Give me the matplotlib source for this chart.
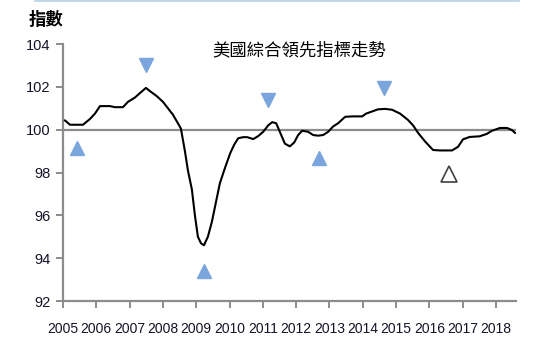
import numpy as np
import matplotlib
matplotlib.use("Agg")
import matplotlib.pyplot as plt

plt.rcParams['font.family'] = ['Noto Sans CJK TC', 'DejaVu Sans']

# index values (decimal year, index)
years = [2005.06, 2005.21, 2005.60, 2005.81, 2005.96, 2006.11, 2006.41, 2006.56, 2006.80, 2006.95,
         2007.16, 2007.34, 2007.49, 2007.61, 2007.82, 2008.00, 2008.15, 2008.30, 2008.45, 2008.54,
         2008.66, 2008.75, 2008.87, 2008.96, 2009.05, 2009.14, 2009.23, 2009.35, 2009.47, 2009.59,
         2009.71, 2009.86, 2010.02, 2010.14, 2010.26, 2010.41, 2010.53, 2010.71, 2010.86, 2011.01,
         2011.16, 2011.28, 2011.40, 2011.51, 2011.66, 2011.81, 2011.94, 2012.06, 2012.18, 2012.36,
         2012.51, 2012.66, 2012.81, 2012.96, 2013.11, 2013.26, 2013.47, 2013.68, 2013.98, 2014.10,
         2014.28, 2014.46, 2014.67, 2014.88, 2015.12, 2015.36, 2015.51, 2015.66, 2015.87, 2016.11,
         2016.32, 2016.68, 2016.86, 2017.01, 2017.21, 2017.51, 2017.72, 2017.88, 2018.12, 2018.33,
         2018.48, 2018.57]
index = [100.43, 100.23, 100.23, 100.5, 100.75, 101.1, 101.1, 101.05, 101.05, 101.3,
         101.5, 101.75, 101.95, 101.8, 101.56, 101.3, 101.0, 100.7, 100.3, 100.05,
         99.0, 98.1, 97.2, 96.0, 95.0, 94.7, 94.6, 95.0, 95.7, 96.6,
         97.5, 98.2, 98.9, 99.3, 99.6, 99.65, 99.65, 99.56, 99.7, 99.9,
         100.2, 100.35, 100.3, 99.9, 99.35, 99.22, 99.4, 99.75, 99.95, 99.9,
         99.75, 99.72, 99.75, 99.9, 100.15, 100.3, 100.6, 100.62, 100.62, 100.75,
         100.85, 100.95, 100.97, 100.93, 100.75, 100.45, 100.2, 99.85, 99.45, 99.05,
         99.03, 99.03, 99.2, 99.55, 99.66, 99.69, 99.8, 99.95, 100.08, 100.08,
         99.98, 99.85]

# turning point markers
trough_x = [2005.42, 2009.23, 2012.69]
trough_y = [99.16, 93.38, 98.7]
peak_x = [2007.49, 2011.16, 2014.64]
peak_y = [103.0, 101.4, 101.96]
open_x = [2016.59]
open_y = [97.95]

year_ticks = list(range(2005, 2019))
y_ticks = [92, 94, 96, 98, 100, 102, 104]

fig = plt.figure(figsize=(5.54, 3.48), dpi=100)
ax = fig.add_axes([63/554, 47/348, (516-63)/554, (301-44)/348])

ax.axhline(100, color='#8c8c8c', lw=1.6, zorder=1)
ax.plot(years, index, color='black', lw=1.5, zorder=3)

tri_col = '#7aa6dd'
ax.plot(trough_x, trough_y, '^', color=tri_col, ms=10, ls='none', zorder=4)
ax.plot(peak_x, peak_y, 'v', color=tri_col, ms=10, ls='none', zorder=4)
ax.plot(open_x, open_y, '^', mfc='white', mec='#404040', mew=1.2, ms=12, ls='none', zorder=4)

ax.set_xlim(2005, 2018.6)
ax.set_ylim(92, 104)
ax.set_xticks(year_ticks)
ax.set_xticklabels([str(y) for y in year_ticks], family=['Liberation Sans'], fontsize=10,
                   color='#141428')
ax.set_yticks(y_ticks)
ax.set_yticklabels([str(v) for v in y_ticks], family=['Liberation Sans'], fontsize=10.5,
                   color='#141428')

for s in ['top', 'right']:
    ax.spines[s].set_visible(False)
for s in ['left', 'bottom']:
    ax.spines[s].set_color('#8c8c8c')
    ax.spines[s].set_linewidth(1.6)
ax.tick_params(axis='both', direction='out', length=5, width=1.4, color='#8c8c8c')
ax.tick_params(axis='x', pad=10)
ax.tick_params(axis='y', pad=4)

ax.text(0.521, 0.977, '美國綜合領先指標走勢', transform=ax.transAxes, ha='center', va='center',
        fontsize=12.5)
fig.text(29/554, 1 - 20/348, '指數', ha='left', va='center', fontsize=12.5, fontweight='bold')

fig.add_artist(plt.Line2D([35/554, 519/554], [1 - 0.8/348, 1 - 0.8/348], color='#b8cfe8', lw=1.2))

fig.savefig('out.png', dpi=100)
